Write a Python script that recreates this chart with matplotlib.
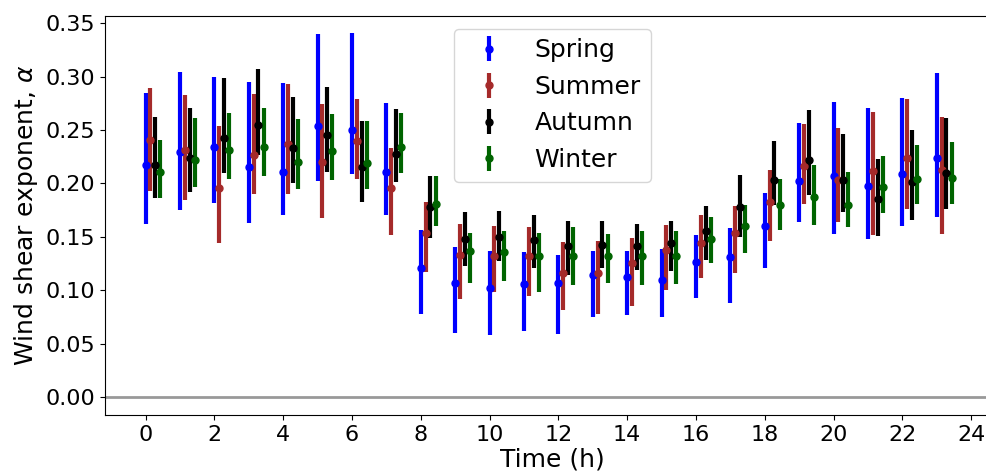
import numpy as np
import matplotlib
matplotlib.use("Agg")
import matplotlib.pyplot as plt

hours = np.arange(24)

# median, lower and upper bound of alpha per hour
spring_mid = [0.217, 0.229, 0.234, 0.215, 0.211, 0.254, 0.250, 0.211, 0.121, 0.107, 0.102, 0.106,
              0.107, 0.114, 0.112, 0.110, 0.126, 0.131, 0.160, 0.202, 0.207, 0.198, 0.209, 0.224]
spring_lo = [0.162, 0.175, 0.182, 0.163, 0.170, 0.202, 0.209, 0.170, 0.078, 0.060, 0.058, 0.062,
             0.059, 0.075, 0.077, 0.075, 0.093, 0.088, 0.121, 0.164, 0.153, 0.148, 0.160, 0.169]
spring_hi = [0.285, 0.304, 0.300, 0.295, 0.294, 0.340, 0.341, 0.275, 0.156, 0.140, 0.137, 0.136,
             0.133, 0.137, 0.137, 0.139, 0.152, 0.158, 0.191, 0.257, 0.276, 0.271, 0.280, 0.303]

summer_mid = [0.241, 0.231, 0.196, 0.227, 0.237, 0.220, 0.240, 0.196, 0.154, 0.133, 0.132, 0.132,
              0.116, 0.116, 0.125, 0.138, 0.144, 0.154, 0.183, 0.216, 0.203, 0.212, 0.224, 0.213]
summer_lo = [0.193, 0.184, 0.144, 0.190, 0.190, 0.168, 0.204, 0.152, 0.117, 0.092, 0.098, 0.095,
             0.081, 0.078, 0.085, 0.100, 0.111, 0.116, 0.146, 0.181, 0.164, 0.152, 0.176, 0.153]
summer_hi = [0.289, 0.283, 0.254, 0.284, 0.293, 0.274, 0.279, 0.233, 0.183, 0.162, 0.160, 0.159,
             0.145, 0.146, 0.149, 0.161, 0.170, 0.179, 0.213, 0.256, 0.252, 0.267, 0.279, 0.262]

autumn_mid = [0.217, 0.224, 0.243, 0.255, 0.233, 0.245, 0.215, 0.228, 0.178, 0.148, 0.150, 0.147,
              0.141, 0.142, 0.141, 0.144, 0.155, 0.178, 0.203, 0.222, 0.203, 0.185, 0.201, 0.210]
autumn_lo = [0.186, 0.192, 0.210, 0.227, 0.200, 0.211, 0.183, 0.201, 0.149, 0.123, 0.127, 0.121,
             0.114, 0.121, 0.119, 0.118, 0.128, 0.150, 0.180, 0.189, 0.173, 0.151, 0.166, 0.176]
autumn_hi = [0.262, 0.271, 0.299, 0.307, 0.281, 0.290, 0.258, 0.270, 0.207, 0.173, 0.174, 0.170,
             0.165, 0.165, 0.162, 0.165, 0.179, 0.208, 0.240, 0.269, 0.246, 0.223, 0.250, 0.261]

winter_mid = [0.211, 0.222, 0.231, 0.234, 0.220, 0.230, 0.219, 0.234, 0.181, 0.137, 0.136, 0.132,
              0.132, 0.132, 0.132, 0.132, 0.148, 0.160, 0.180, 0.187, 0.180, 0.197, 0.204, 0.205]
winter_lo = [0.186, 0.197, 0.204, 0.207, 0.195, 0.203, 0.195, 0.210, 0.160, 0.107, 0.109, 0.098,
             0.105, 0.107, 0.105, 0.106, 0.125, 0.135, 0.156, 0.161, 0.159, 0.172, 0.181, 0.181]
winter_hi = [0.241, 0.261, 0.266, 0.271, 0.260, 0.265, 0.258, 0.266, 0.207, 0.154, 0.155, 0.154,
             0.159, 0.153, 0.155, 0.155, 0.169, 0.180, 0.204, 0.217, 0.211, 0.226, 0.236, 0.239]

seasons = ["Spring", "Summer", "Autumn", "Winter"]
colors = ["blue", "brown", "black", "darkgreen"]
offsets = [0.0, 0.14, 0.28, 0.43]
data = [(spring_mid, spring_lo, spring_hi),
        (summer_mid, summer_lo, summer_hi),
        (autumn_mid, autumn_lo, autumn_hi),
        (winter_mid, winter_lo, winter_hi)]

fig = plt.figure(figsize=(9.87, 4.75), dpi=100)
ax = fig.add_axes([105 / 987, 1 - 415 / 475, 895 / 987, 399 / 475])

ax.axhline(0, color="gray", lw=2, alpha=0.8)

for name, c, off, (mid, lo, hi) in zip(seasons, colors, offsets, data):
    mid = np.array(mid)
    err = [mid - np.array(lo), np.array(hi) - mid]
    ax.errorbar(hours + off, mid, yerr=err, fmt="o", color=c, ecolor=c,
                elinewidth=3, markersize=5, label=name)

ax.set_xlim(-1.18, 24.84)
ax.set_ylim(-0.0169, 0.3568)
ax.set_xticks(np.arange(0, 25, 2))
ax.set_yticks(np.arange(0, 0.351, 0.05))
ax.spines["right"].set_visible(False)
ax.tick_params(labelsize=16)
ax.set_xlabel("Time (h)", fontsize=18, labelpad=2)
ax.set_ylabel(r"Wind shear exponent, $\alpha$", fontsize=18)
ax.legend(loc="upper center", fontsize=18)

fig.savefig("out.png", dpi=100)
